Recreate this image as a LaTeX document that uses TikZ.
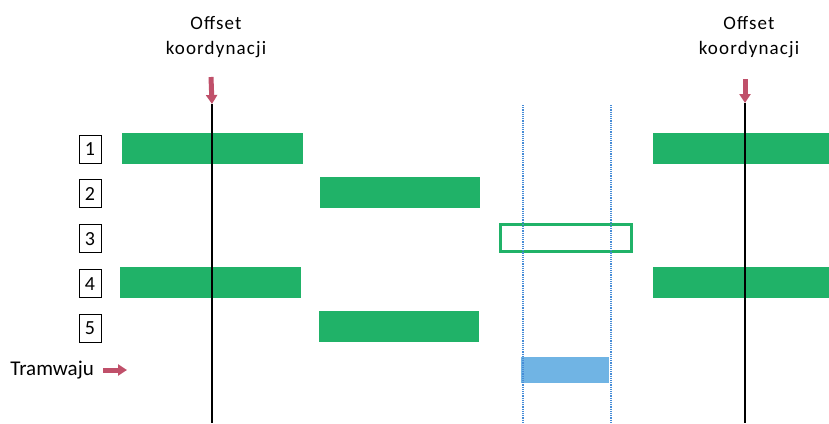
\documentclass[tikz,border=0pt]{standalone}
\usepackage{fontspec}
\setmainfont{Carlito}
\usepackage{xcolor}
\usetikzlibrary{arrows.meta,positioning}

\definecolor{bargreen}{RGB}{32,178,104}
\definecolor{tramblue}{RGB}{112,180,228}
\definecolor{lineblue}{RGB}{70,140,215}
\definecolor{arrowred}{RGB}{192,80,106}

\tikzset{
  greenbar/.style={fill=bargreen, inner sep=0pt, minimum height=31pt},
  longbar/.style={greenbar, minimum width=181pt},
  shortbar/.style={greenbar, minimum width=160pt},
  phasebox/.style={draw, line width=0.9pt, inner sep=0pt, minimum width=22pt, minimum height=28pt, font=\fontsize{20}{22}\selectfont},
  offsetlabel/.style={align=center, font=\fontsize{19}{25}\selectfont\addfontfeatures{LetterSpace=6}},
  redarrow/.style={arrowred, line width=5pt, -{Triangle[width=11pt,length=9pt]}},
  offsetline/.style={black, line width=1.3pt},
  stopline/.style={lineblue, line width=1.2pt, densely dotted}
}

\begin{document}
\begin{tikzpicture}[x=1pt, y=-1pt]
  \useasboundingbox (0,0) rectangle (829,423);

  % numery faz
  \node [phasebox] (n1) at (90,149) {1};
  \node [phasebox, below = 16pt of n1] (n2) {2};
  \node [phasebox, below = 16pt of n2] (n3) {3};
  \node [phasebox, below = 16pt of n3] (n4) {4};
  \node [phasebox, below = 16pt of n4] (n5) {5};

  % skrzyzowanie lewe
  \node [longbar] (b1) at (212.5,148.5) {};
  \node [shortbar] (b2) at (400,192.5) {};
  \node [longbar] (b4) at (210.5,282.5) {};
  \node [shortbar] (b5) at (399,326) {};

  % przystanek
  \node [draw=bargreen, line width=3pt, fill=white, minimum width=131pt, minimum height=27pt, inner sep=0pt] (b3) at (566,238) {};
  \node [fill=tramblue, minimum width=88pt, minimum height=26pt, inner sep=0pt] (tram) at (565,370) {};

  % skrzyzowanie prawe
  \node [longbar] (r1) at (743.5,148.5) {};
  \node [longbar] (r4) at (743.5,282.5) {};

  % linie pionowe
  \coordinate (lt) at (212,104);
  \coordinate (lb) at (212,423);
  \coordinate (rt) at (745,103);
  \coordinate (rb) at (745,423);
  \draw [offsetline] (lt) -- (lb);
  \draw [offsetline] (rt) -- (rb);

  \coordinate (s1t) at (523,105);
  \coordinate (s1b) at (523,423);
  \coordinate (s2t) at (611,105);
  \coordinate (s2b) at (611,423);
  \draw [stopline] (s1t) -- (s1b);
  \draw [stopline] (s2t) -- (s2b);

  % opisy
  \node [offsetlabel] (off1) at (216,37) {Offset\\koordynacji};
  \node [offsetlabel] (off2) at (749,37) {Offset\\koordynacji};
  \coordinate (a1) at (211,77);
  \coordinate (a2) at (745,79);
  \draw [redarrow] (a1) -- (lt);
  \draw [redarrow] (a2) -- (rt);

  \node [font=\fontsize{21}{22}\selectfont, anchor=east, inner sep=0pt] (tramlabel) at (94,370) {Tramwaju};
  \coordinate (ts) at (103,370);
  \coordinate (ta) at (127,370);
  \draw [redarrow] (ts) -- (ta);
\end{tikzpicture}
\end{document}
